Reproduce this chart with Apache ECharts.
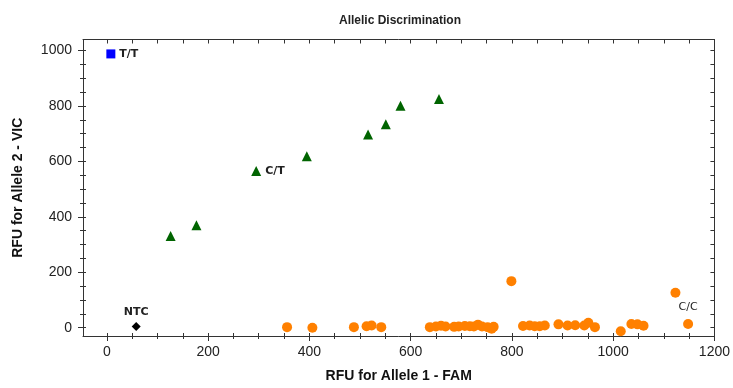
<!DOCTYPE html>
<html>
<head>
<meta charset="utf-8">
<script src="https://cdn.jsdelivr.net/npm/echarts@6/dist/echarts.min.js"></script>
<style>
  html, body { margin: 0; padding: 0; background: #fff; }
  #chart { width: 733px; height: 388px; }
</style>
</head>
<body>
<div id="chart"></div>
<script>
  const ttX = [8];
  const ttY = [988];
  const ctX = [126, 177, 295, 395, 516, 551, 580, 656];
  const ctY = [331, 370, 565, 619, 697, 734, 801, 825];
  const ccX = [356, 406, 488, 513, 523, 542, 638, 650, 660, 669, 686, 695, 707, 717, 725, 733, 741, 752, 760, 764,
               799, 822, 835, 845, 855, 865, 892, 910, 925, 943, 951, 964, 1015, 1036, 1048, 1060, 1123, 1148];
  const ccY = [2, 0, 2, 5, 8, 2, 2, 4, 7, 4, 3, 4, 6, 5, 4, 11, 4, 2, -4, 3,
               168, 6, 8, 5, 5, 8, 12, 8, 9, 8, 18, 2, -13, 13, 12, 7, 126, 13];
  const ntcX = [58];
  const ntcY = [4];

  const xLabels = [0, 200, 400, 600, 800, 1000, 1200];
  const yLabels = [0, 200, 400, 600, 800, 1000];
  const xMinor = [], yMinor = [];
  for (let v = 0; v <= 1200; v += 50) xMinor.push(v);
  for (let v = 0; v <= 1000; v += 50) yMinor.push(v);

  const xMin = -47, xMax = 1200, yMin = -30, yMax = 1040;
  const lineColor = '#333';

  function pairs(xs, ys) {
    return xs.map((x, i) => [x, ys[i]]);
  }

  function markLabel(text, position, weight) {
    return {
      show: true,
      formatter: text,
      position: position,
      distance: 4,
      color: '#222',
      fontFamily: 'DejaVu Sans',
      fontWeight: weight,
      fontSize: 11
    };
  }

  // extra axes, only for ticks (they cross the axis line in the reference)
  function tickAxis(pos, min, max, values, len, inside, line) {
    return {
      type: 'value', position: pos, min: min, max: max,
      axisLine: { show: line, onZero: false, lineStyle: { color: lineColor } },
      axisTick: { show: true, customValues: values, length: len, inside: inside, lineStyle: { color: lineColor } },
      axisLabel: { show: false },
      splitLine: { show: false }
    };
  }

  const ttData = pairs(ttX, ttY);
  ttData[0] = { value: ttData[0], label: markLabel('T/T', 'right', 'bold') };
  const ctData = pairs(ctX, ctY);
  ctData[2] = { value: ctData[2], label: markLabel('C/T', 'right', 'bold') };
  const ccData = pairs(ccX, ccY);
  const last = ccData.length - 1;
  ccData[last] = { value: ccData[last], label: Object.assign(markLabel('C/C', 'top', 'normal'), { distance: 6 }) };
  const ntcData = pairs(ntcX, ntcY);
  ntcData[0] = { value: ntcData[0], label: markLabel('NTC', 'top', 'bold') };

  const plainNum = v => String(v);

  const chart = echarts.init(document.getElementById('chart'));
  chart.setOption({
    animation: false,
    backgroundColor: '#fff',
    grid: { left: 83, right: 15, top: 39.5, bottom: 47.3 },
    graphic: [{
      type: 'text', x: 400, y: 21,
      style: {
        text: 'Allelic Discrimination', textAlign: 'center', textVerticalAlign: 'middle',
        fontFamily: 'Liberation Sans', fontWeight: 'bold', fontSize: 12, fill: '#222'
      }
    }],
    xAxis: [
      {
        type: 'value', position: 'bottom', min: xMin, max: xMax,
        name: 'RFU for Allele 1 - FAM', nameLocation: 'middle', nameGap: 33,
        nameTextStyle: { fontFamily: 'Liberation Sans', fontWeight: 'bold', fontSize: 14, color: '#111' },
        axisLine: { show: true, onZero: false, lineStyle: { color: lineColor } },
        axisTick: { show: true, customValues: xLabels, length: 5, lineStyle: { color: lineColor } },
        axisLabel: { customValues: xLabels, formatter: plainNum, margin: 9, fontFamily: 'Liberation Sans', fontSize: 14, color: '#222' },
        splitLine: { show: false }
      },
      tickAxis('bottom', xMin, xMax, xMinor, 3, false, false),
      tickAxis('bottom', xMin, xMax, xMinor, 3, true, false),
      tickAxis('top', xMin, xMax, xMinor, 4, true, true)
    ],
    yAxis: [
      {
        type: 'value', position: 'left', min: yMin, max: yMax,
        name: 'RFU for Allele 2 - VIC', nameLocation: 'middle', nameGap: 58,
        nameTextStyle: { fontFamily: 'Liberation Sans', fontWeight: 'bold', fontSize: 14, color: '#111' },
        axisLine: { show: true, onZero: false, lineStyle: { color: lineColor } },
        axisTick: { show: true, customValues: yLabels, length: 5, lineStyle: { color: lineColor } },
        axisLabel: { customValues: yLabels, formatter: plainNum, margin: 11, fontFamily: 'Liberation Sans', fontSize: 14, color: '#222' },
        splitLine: { show: false }
      },
      tickAxis('left', yMin, yMax, yMinor, 3, false, false),
      tickAxis('left', yMin, yMax, yMinor, 3, true, false),
      tickAxis('right', yMin, yMax, yMinor, 4, true, true)
    ],
    series: [
      { name: 'C/C', type: 'scatter', symbol: 'circle', symbolSize: 10, itemStyle: { color: '#FF8000', opacity: 1 }, data: ccData },
      { name: 'C/T', type: 'scatter', symbol: 'triangle', symbolSize: 10, itemStyle: { color: '#006400', opacity: 1 }, data: ctData },
      { name: 'T/T', type: 'scatter', symbol: 'rect', symbolSize: 9, itemStyle: { color: '#0000FF', opacity: 1 }, data: ttData },
      { name: 'NTC', type: 'scatter', symbol: 'diamond', symbolSize: 9, itemStyle: { color: '#000', opacity: 1 }, data: ntcData }
    ]
  });
</script>
</body>
</html>
